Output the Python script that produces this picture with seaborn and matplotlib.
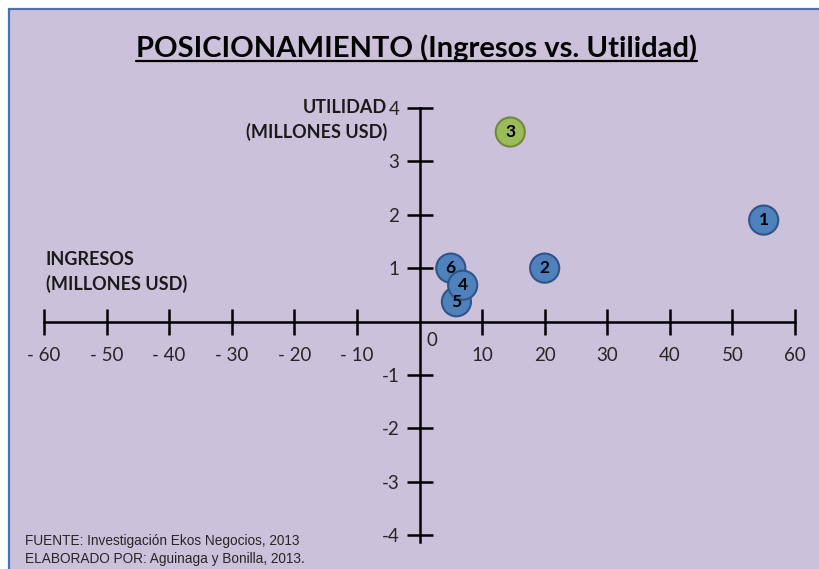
import matplotlib
matplotlib.use("Agg")
import matplotlib.pyplot as plt
import matplotlib.patches as mpatches
from matplotlib.lines import Line2D
import seaborn as sns
import pandas as pd

# ---- data ----
empresas = ["1", "2", "3", "6", "5", "4"]
ingresos = [55, 20, 14.5, 5.0, 5.9, 6.9]
utilidad = [1.9, 1.0, 3.55, 1.0, 0.37, 0.68]
grupo = ["azul", "azul", "verde", "azul", "azul", "azul"]

xtick_vals = [-60, -50, -40, -30, -20, -10, 10, 20, 30, 40, 50, 60]
xtick_labels = ["- 60", "- 50", "- 40", "- 30", "- 20", "- 10",
                "10", "20", "30", "40", "50", "60"]
ytick_vals = [-4, -3, -2, -1, 1, 2, 3, 4]
ytick_labels = ["-4", "-3", "-2", "-1", "1", "2", "3", "4"]

titulo = "POSICIONAMIENTO (Ingresos vs. Utilidad)"
titulo_y = "UTILIDAD\n(MILLONES USD)"
titulo_x = "INGRESOS\n(MILLONES USD)"
fuente = "FUENTE: Investigación Ekos Negocios, 2013\nELABORADO POR: Aguinaga y Bonilla, 2013."

df = pd.DataFrame({"empresa": empresas, "ingresos": ingresos,
                   "utilidad": utilidad, "grupo": grupo})

# ---- style ----
sns.set_theme(style="white")
plt.rcParams["font.family"] = ["Lato", "DejaVu Sans"]

W, H = 820, 569
fig = plt.figure(figsize=(W / 100, H / 100), dpi=100)
fig.patch.set_facecolor("white")

bg = "#CCC1DA"
frame = mpatches.Rectangle((9 / W, -0.05), 1.2, 1 - 9 / H + 0.05,
                           transform=fig.transFigure, facecolor=bg,
                           edgecolor="#4A70B0", lw=1.6, zorder=-5)
fig.patches.append(frame)

# axes placement: x -60..60 -> px 44..795 ; y 4 -> 108, -4 -> 535
ymin, ymax = -4.13, 4
px_unit = (535 - 108) / 8
bottom_px = 535 + (-4 - ymin) * px_unit
ax = fig.add_axes([44 / W, 1 - bottom_px / H, (795 - 44) / W, (bottom_px - 108) / H])
ax.set_zorder(2)
ax.patch.set_alpha(0)
ax.set_xlim(-60, 60)
ax.set_ylim(ymin, ymax)

for s in ["top", "right"]:
    ax.spines[s].set_visible(False)
ax.spines["left"].set_position(("data", 0))
ax.spines["bottom"].set_position(("data", 0))
for s in ["left", "bottom"]:
    ax.spines[s].set_linewidth(1.8)
    ax.spines[s].set_color("black")
    ax.spines[s].set_zorder(2)

ax.set_xticks(xtick_vals)
ax.set_xticklabels(xtick_labels)
ax.set_yticks(ytick_vals)
ax.set_yticklabels(ytick_labels)
ax.tick_params(axis="x", bottom=True, top=False, direction="inout", length=19,
               width=1.8, color="black", pad=9, labelsize=13.5, labelcolor="#262626")
ax.tick_params(axis="y", left=True, right=False, direction="inout", length=19,
               width=1.8, color="black", pad=5, labelsize=13.5, labelcolor="#262626")

# ---- points ----
sns.scatterplot(data=df, x="ingresos", y="utilidad", hue="grupo",
                palette={"azul": "#4F81BD", "verde": "#9BBB59"},
                s=440, linewidth=1.5, legend=False, ax=ax, zorder=4)
edge_map = {"azul": "#2F5586", "verde": "#6E8A3A"}
ax.collections[0].set_edgecolors([edge_map[g] for g in grupo])
ax.set_xlabel("")
ax.set_ylabel("")
ax.text(2.0, -0.36, "0", ha="center", va="center", fontsize=13.5, color="#262626")
for e, x, y in zip(empresas, ingresos, utilidad):
    ax.text(x, y, e, ha="center", va="center", fontsize=12.5, fontweight="bold",
            color="black", zorder=5)

# ---- texts ----
t = fig.text(417 / W, 1 - 48 / H, titulo, ha="center", va="center",
             fontsize=21, fontweight="bold", color="black")
fig.text(387 / W, 1 - 120 / H, titulo_y, ha="right", va="center", fontsize=13,
         fontweight="bold", color="#1a1a1a", linespacing=1.45)
fig.text(46 / W, 1 - 272 / H, titulo_x, ha="left", va="center", fontsize=13,
         fontweight="bold", color="#1a1a1a", linespacing=1.45)
fig.text(25 / W, 1 - 550 / H, fuente, ha="left", va="center", fontsize=9.8,
         family=["Liberation Sans", "DejaVu Sans"], color="#262626", linespacing=1.3)

# underline title
fig.canvas.draw()
bb = t.get_window_extent()
uy = (H - 61) / H
fig.add_artist(Line2D([bb.x0 / W, bb.x1 / W], [uy, uy], transform=fig.transFigure,
                      color="black", lw=1.6))

fig.savefig("out.png", dpi=100)
